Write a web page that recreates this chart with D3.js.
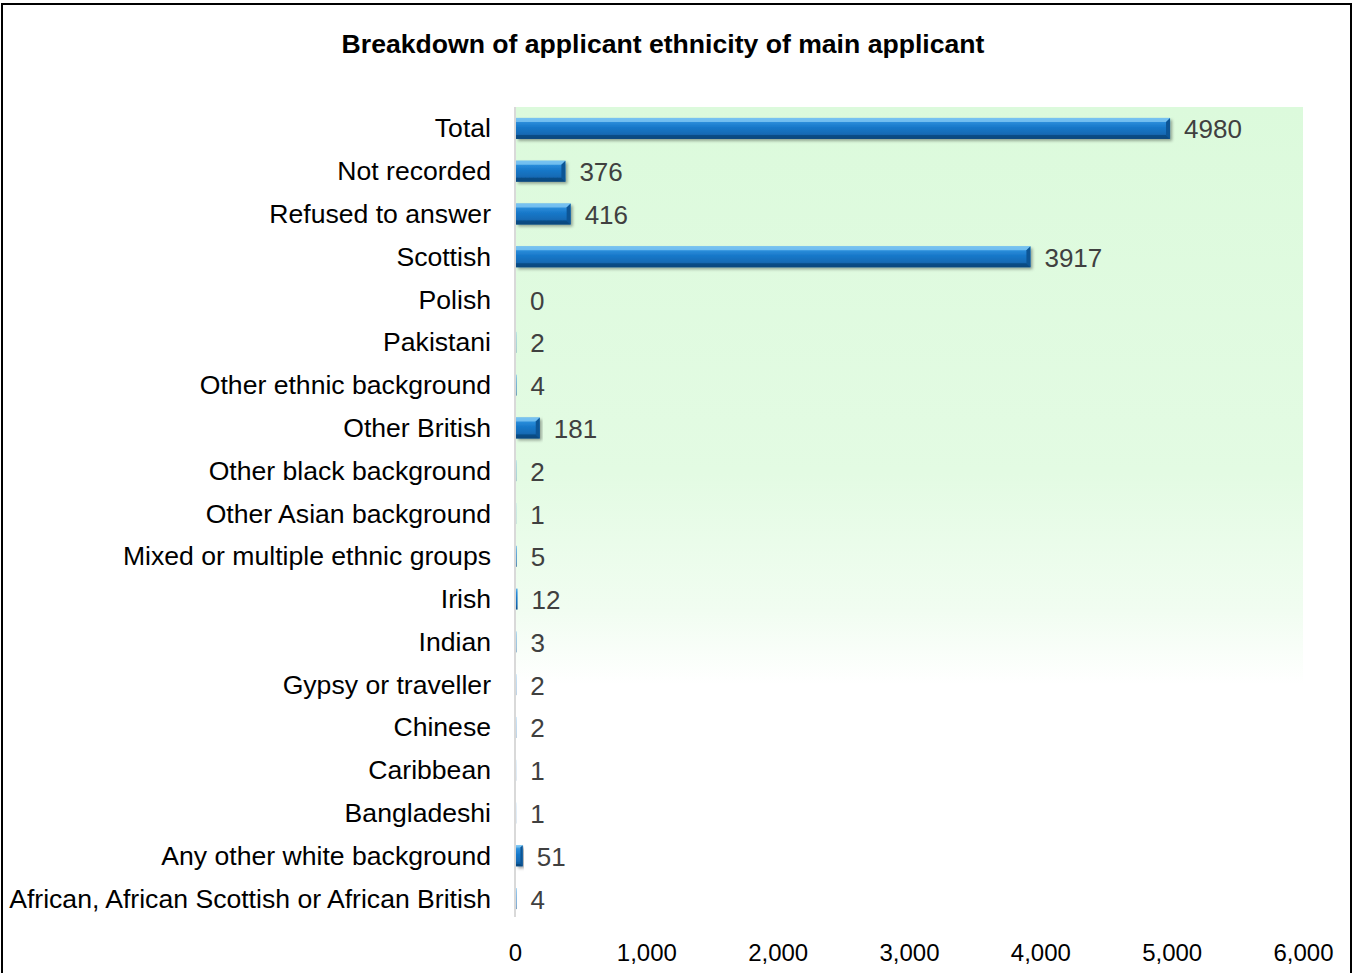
<!DOCTYPE html>
<html>
<head>
<meta charset="utf-8">
<script src="https://cdn.jsdelivr.net/npm/d3@7"></script>
<style>
  html, body { margin: 0; padding: 0; background: #fff; }
  svg { display: block; font-family: "Liberation Sans", Arial, sans-serif; }
</style>
</head>
<body>
<svg id="chart" width="1357" height="973"></svg>
<script>
// Categories listed top to bottom
const categories = [
  "Total", "Not recorded", "Refused to answer", "Scottish", "Polish", "Pakistani",
  "Other ethnic background", "Other British", "Other black background",
  "Other Asian background", "Mixed or multiple ethnic groups", "Irish", "Indian",
  "Gypsy or traveller", "Chinese", "Caribbean", "Bangladeshi",
  "Any other white background", "African, African Scottish or African British"
];
const applicants = [4980, 376, 416, 3917, 0, 2, 4, 181, 2, 1, 5, 12, 3, 2, 2, 1, 1, 51, 4];
const xTicks = [0, 1000, 2000, 3000, 4000, 5000, 6000];
const chartTitle = "Breakdown of applicant ethnicity of main applicant";

const svg = d3.select("#chart");
const W = 1357, H = 973;
const plot = { left: 515, right: 1303, top: 107, bottom: 920 };

// Outer frame
svg.append("rect")
  .attr("x", 2).attr("y", 4).attr("width", W - 8).attr("height", H + 10)
  .attr("fill", "#fff").attr("stroke", "#000").attr("stroke-width", 2);

const defs = svg.append("defs");

// Plot background: pale green fading out toward the lower part
const bg = defs.append("linearGradient").attr("id", "bgGrad")
  .attr("x1", 0).attr("y1", 0).attr("x2", 0).attr("y2", 1);
bg.append("stop").attr("offset", "0%").attr("stop-color", "#dcfadc");
bg.append("stop").attr("offset", "45%").attr("stop-color", "#e3fbe3");
bg.append("stop").attr("offset", "62%").attr("stop-color", "#f1fdf1");
bg.append("stop").attr("offset", "71%").attr("stop-color", "#ffffff");
bg.append("stop").attr("offset", "100%").attr("stop-color", "#ffffff");

// Bar body gradient (rounded look)
const barGrad = defs.append("linearGradient").attr("id", "barGrad")
  .attr("x1", 0).attr("y1", 0).attr("x2", 0).attr("y2", 1);
barGrad.append("stop").attr("offset", "0%").attr("stop-color", "#5fb4ea");
barGrad.append("stop").attr("offset", "18%").attr("stop-color", "#2c8fdc");
barGrad.append("stop").attr("offset", "45%").attr("stop-color", "#1878c9");
barGrad.append("stop").attr("offset", "75%").attr("stop-color", "#136bb6");
barGrad.append("stop").attr("offset", "100%").attr("stop-color", "#0c4e8c");

const shadow = defs.append("filter").attr("id", "barShadow")
  .attr("x", "-5%").attr("y", "-30%").attr("width", "115%").attr("height", "190%");
shadow.append("feDropShadow").attr("dx", 2).attr("dy", 2).attr("stdDeviation", 1.5)
  .attr("flood-color", "#000").attr("flood-opacity", 0.35);

const x = d3.scaleLinear().domain([0, 6000]).range([plot.left, plot.right]);
const y = d3.scaleBand().domain(categories).range([plot.top, plot.bottom]).paddingInner(0.5).paddingOuter(0.25);

svg.append("rect")
  .attr("x", plot.left).attr("y", plot.top)
  .attr("width", x(6000) - plot.left).attr("height", plot.bottom - plot.top)
  .attr("fill", "url(#bgGrad)");

// Title
svg.append("text")
  .attr("x", 663).attr("y", 53)
  .attr("text-anchor", "middle")
  .attr("font-size", 26.6).attr("font-weight", "bold").attr("fill", "#000")
  .text(chartTitle);

// Vertical category axis line
svg.append("line")
  .attr("x1", plot.left).attr("x2", plot.left)
  .attr("y1", plot.top).attr("y2", plot.bottom - 3)
  .attr("stroke", "#d9d9d9").attr("stroke-width", 2);

const data = categories.map((c, i) => ({ cat: c, v: applicants[i] }));
const bh = 21;

const bars = svg.append("g").selectAll("g").data(data).join("g")
  .attr("transform", d => `translate(0,${y(d.cat) + y.bandwidth() / 2 - bh / 2})`);

bars.filter(d => d.v > 0).each(function(d) {
  const g = d3.select(this);
  const x0 = x(0) + 1;
  const w = x(d.v) - x(0);
  const bev = Math.min(4, w / 3);
  g.append("rect")
    .attr("x", x0).attr("y", 0).attr("width", w).attr("height", bh)
    .attr("fill", "url(#barGrad)")
    .attr("filter", w > 6 ? "url(#barShadow)" : null);
  if (w > 6) {
    // bevelled edges: top highlight, bottom shade, slanted right end
    g.append("path")
      .attr("d", `M${x0},0 L${x0 + w},0 L${x0 + w - bev},${bev} L${x0},${bev} Z`)
      .attr("fill", "#7cc6f2").attr("opacity", 0.85);
    g.append("path")
      .attr("d", `M${x0},${bh} L${x0 + w},${bh} L${x0 + w - bev},${bh - bev} L${x0},${bh - bev} Z`)
      .attr("fill", "#0a4478").attr("opacity", 0.7);
    g.append("path")
      .attr("d", `M${x0 + w},0 L${x0 + w},${bh} L${x0 + w - bev},${bh - bev} L${x0 + w - bev},${bev} Z`)
      .attr("fill", "#0d5595");
  }
});

// Value labels
svg.append("g").selectAll("text").data(data).join("text")
  .attr("x", d => x(d.v) + 15)
  .attr("y", d => y(d.cat) + y.bandwidth() / 2 + 10)
  .attr("font-size", 26).attr("fill", "#404040")
  .text(d => d.v);

// Category labels
svg.append("g").selectAll("text").data(categories).join("text")
  .attr("x", plot.left - 24)
  .attr("y", d => y(d) + y.bandwidth() / 2 + 9)
  .attr("text-anchor", "end")
  .attr("font-size", 26.6).attr("fill", "#000")
  .text(d => d);

// Value axis (labels only)
const xAxis = d3.axisBottom(x).tickValues(xTicks).tickFormat(d3.format(",")).tickSize(0).tickPadding(0);
const ax = svg.append("g").attr("transform", `translate(0,${plot.bottom})`).call(xAxis);
ax.select(".domain").remove();
ax.selectAll("text")
  .attr("font-family", "'Liberation Sans', Arial, sans-serif")
  .attr("font-size", 24).attr("fill", "#000")
  .attr("dy", 0).attr("y", 41);
</script>
</body>
</html>
